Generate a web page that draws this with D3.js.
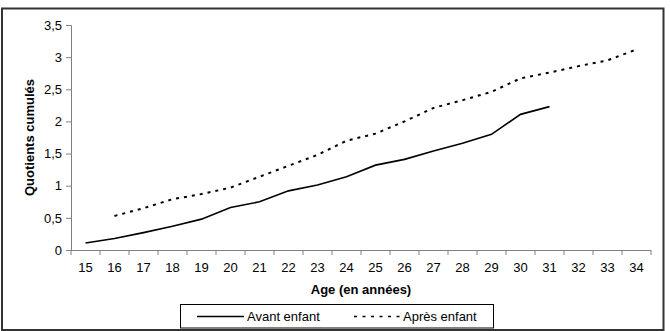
<!DOCTYPE html>
<html><head><meta charset="utf-8">
<script src="https://cdn.jsdelivr.net/npm/d3@7"></script>
<style>body{margin:0;background:#fff}svg{display:block;font-family:"Liberation Sans",Arial,sans-serif}</style>
</head><body><svg id="c" width="670" height="331"></svg>
<script>
const ages = [15,16,17,18,19,20,21,22,23,24,25,26,27,28,29,30,31,32,33,34];
const avant = [0.11,0.18,0.27,0.37,0.48,0.66,0.75,0.92,1.01,1.14,1.32,1.41,1.54,1.66,1.80,2.11,2.23,null,null,null];
const apres = [null,0.53,0.65,0.79,0.87,0.97,1.14,1.31,1.48,1.70,1.81,2.00,2.21,2.33,2.46,2.67,2.76,2.86,2.95,3.12];
const yTicks = [0,0.5,1,1.5,2,2.5,3,3.5];
const seriesNames = ["Avant enfant","Après enfant"];

const FS = 13;
const svg = d3.select("#c");
const m = {l:71, r:651, t:25, b:250};
svg.append("rect").attr("x",2).attr("y",8.5).attr("width",661.5).attr("height",321.5)
  .attr("fill","none").attr("stroke","#333").attr("stroke-width",2);

const x = d3.scaleBand().domain(ages).range([m.l,m.r]);
const y = d3.scaleLinear().domain([0,3.5]).range([m.b,m.t]);
const fmt = d => String(d).replace(".",",");

// y axis
const ya = svg.append("g").attr("transform",`translate(${m.l},0)`)
  .call(d3.axisLeft(y).tickValues(yTicks).tickFormat(fmt).tickSize(5).tickPadding(4));
ya.select(".domain").attr("stroke","#808080");
ya.selectAll(".tick line").attr("stroke","#808080");
ya.selectAll("text").attr("font-size",FS).attr("fill","#000").attr("font-family","Liberation Sans, Arial, sans-serif");

// x axis
const xa = svg.append("g").attr("transform",`translate(0,${m.b})`)
  .call(d3.axisBottom(x).tickSize(0).tickPadding(13));
xa.select(".domain").attr("stroke","#808080").attr("d",`M${m.l},0.5H${m.r}`);
xa.selectAll("text").attr("font-size",FS).attr("fill","#000").attr("font-family","Liberation Sans, Arial, sans-serif");
const bounds = ages.map(a=>x(a)).concat([m.r]);
svg.append("g").selectAll("line").data(bounds).join("line")
  .attr("x1",d=>d).attr("x2",d=>d).attr("y1",m.b).attr("y2",m.b+5).attr("stroke","#808080");

// titles
svg.append("text").attr("x",(m.l+m.r)/2).attr("y",294).attr("text-anchor","middle")
  .attr("font-size",FS).attr("font-weight","bold").text("Age (en années)");
svg.append("text").attr("transform",`translate(34,${(m.t+m.b)/2}) rotate(-90)`).attr("text-anchor","middle")
  .attr("font-size",FS).attr("font-weight","bold").text("Quotients cumulés");

const cx = a => x(a) + x.bandwidth()/2;
const line = d3.line().defined(d=>d[1]!=null).x(d=>cx(d[0])).y(d=>y(d[1]));
svg.append("path").datum(ages.map((a,i)=>[a,avant[i]])).attr("d",line)
  .attr("fill","none").attr("stroke","#000").attr("stroke-width",1.6);
svg.append("path").datum(ages.map((a,i)=>[a,apres[i]])).attr("d",line)
  .attr("fill","none").attr("stroke","#000").attr("stroke-width",2).attr("stroke-dasharray","3,5");

// legend
svg.append("rect").attr("x",180.5).attr("y",304.5).attr("width",313).attr("height",23.5)
  .attr("fill","#fff").attr("stroke","#000").attr("stroke-width",1);
svg.append("line").attr("x1",197).attr("x2",244).attr("y1",316.5).attr("y2",316.5).attr("stroke","#000").attr("stroke-width",1.6);
svg.append("text").attr("x",247).attr("y",321).attr("font-size",FS).text(seriesNames[0]);
svg.append("line").attr("x1",354).attr("x2",402).attr("y1",316.5).attr("y2",316.5).attr("stroke","#000").attr("stroke-width",1.5).attr("stroke-dasharray","3,5.5");
svg.append("text").attr("x",403).attr("y",321).attr("font-size",FS).text(seriesNames[1]);
</script></body></html>
